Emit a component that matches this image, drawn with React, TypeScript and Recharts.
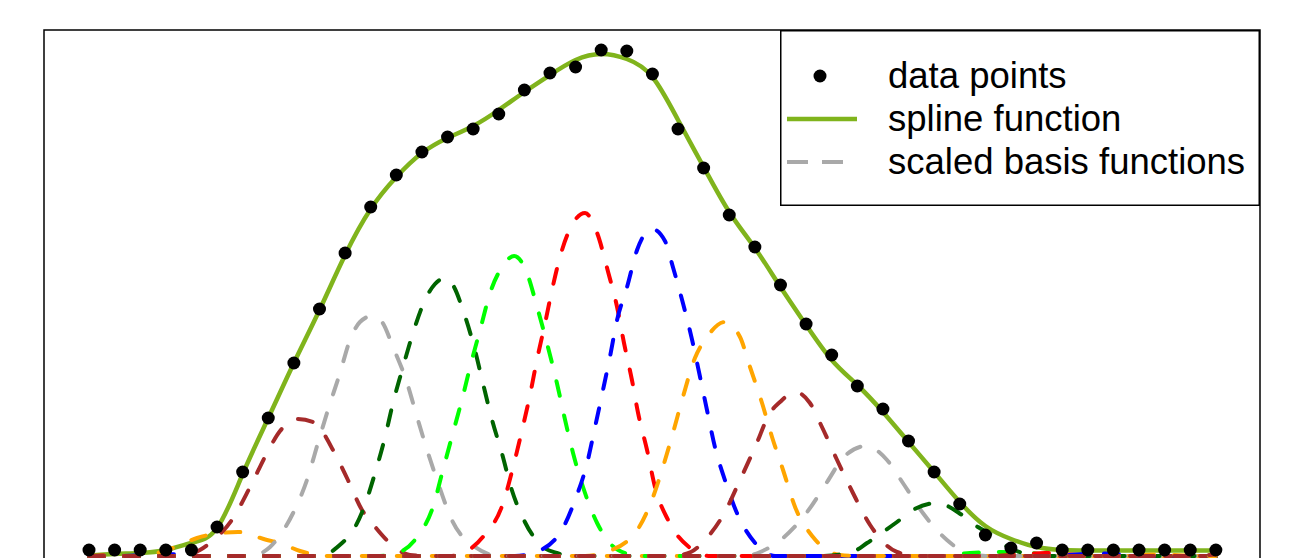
import { ComposedChart, Line, XAxis, YAxis, ReferenceArea, Legend } from "recharts";

// ── Data ──────────────────────────────────────────────────────────────────────

type Pt = [number, number];

const SAMPLE_X = [
  0, 1, 2, 3, 4, 5, 6, 7, 8, 9, 10, 11, 12, 13, 14, 15, 16, 17, 18, 19, 20, 21,
  22, 23, 24, 25, 26, 27, 28, 29, 30, 31, 32, 33, 34, 35, 36, 37, 38, 39, 40, 41,
  42, 43, 44,
];

const POINT_Y = [
  0.012, 0.012, 0.012, 0.012, 0.012, 0.058, 0.168, 0.276, 0.386, 0.494, 0.606,
  0.698, 0.762, 0.808, 0.838, 0.854, 0.884, 0.932, 0.966, 0.978, 1.012, 1.01,
  0.964, 0.854, 0.776, 0.682, 0.618, 0.542, 0.464, 0.402, 0.34, 0.294, 0.23,
  0.168, 0.104, 0.042, 0.016, 0.026, 0.012, 0.012, 0.012, 0.012, 0.012, 0.012,
  0.012,
];

const SPLINE_Y = [
  0.001, 0.004, 0.006, 0.012, 0.026, 0.056, 0.164, 0.276, 0.386, 0.492, 0.602,
  0.694, 0.758, 0.806, 0.836, 0.86, 0.892, 0.928, 0.962, 0.992, 1.004, 0.994,
  0.958, 0.872, 0.778, 0.688, 0.616, 0.538, 0.462, 0.392, 0.342, 0.288, 0.228,
  0.168, 0.108, 0.06, 0.034, 0.018, 0.012, 0.011, 0.011, 0.011, 0.011, 0.011, 0.011,
];

// scaled basis functions, left to right
const BASIS_RED_0: Pt[] = [[0.5, 0.001], [1.2, 0]];
const BASIS_BLUE_0: Pt[] = [[1.21, 0], [2.97, 0.004], [4.33, 0]];
const BASIS_ORANGE_0: Pt[] = [
  [1.99, 0], [3.16, 0.014], [4.22, 0.036], [5.12, 0.046], [5.82, 0.048],
  [6.95, 0.032], [7.46, 0.026], [8.24, 0.01], [9.41, 0],
];
const BASIS_BROWN_1: Pt[] = [
  [3.75, 0], [4.33, 0.012], [4.72, 0.026], [5.58, 0.072], [6.29, 0.138],
  [6.95, 0.206], [7.46, 0.25], [8.12, 0.274], [8.75, 0.268], [9.61, 0.204],
  [10.11, 0.152], [10.66, 0.092], [11.05, 0.066], [11.75, 0.026], [12.53, 0.002],
  [13.3, 0],
];
const BASIS_GRAY_1: Pt[] = [
  [6.29, 0], [7.07, 0.018], [7.38, 0.036], [7.97, 0.086], [8.51, 0.152],
  [8.94, 0.226], [9.33, 0.292], [9.8, 0.366], [10.19, 0.432], [10.58, 0.468],
  [11.05, 0.48], [11.44, 0.468], [11.87, 0.418], [12.42, 0.346], [12.81, 0.278],
  [13.2, 0.212], [13.63, 0.146], [14.17, 0.072], [15.07, 0.018], [16.05, 0],
];
const BASIS_DKGREEN_1: Pt[] = [
  [9.02, 0], [9.88, 0.026], [10.19, 0.042], [10.7, 0.092], [11.17, 0.166],
  [11.56, 0.238], [11.87, 0.306], [12.26, 0.378], [12.65, 0.446], [13.12, 0.512],
  [13.51, 0.544], [13.9, 0.556], [14.21, 0.542], [14.64, 0.486], [15.07, 0.412],
  [15.38, 0.346], [15.74, 0.272], [16.12, 0.206], [16.51, 0.132], [17.02, 0.068],
  [17.73, 0.018], [18.27, 0.006], [18.9, 0],
];
const BASIS_LIME_1: Pt[] = [
  [11.36, 0], [12.14, 0.008], [12.81, 0.038], [13.43, 0.098], [13.82, 0.172],
  [14.21, 0.246], [14.56, 0.312], [14.95, 0.392], [15.27, 0.452], [15.66, 0.526],
  [16.13, 0.578], [16.6, 0.6], [17.02, 0.576], [17.53, 0.492], [17.92, 0.418],
  [18.27, 0.346], [18.59, 0.272], [18.9, 0.206], [19.29, 0.138], [19.84, 0.066],
  [20.66, 0.012], [21.51, 0],
];
const BASIS_RED_1: Pt[] = [
  [14.1, 0], [14.49, 0.004], [15.38, 0.038], [16.17, 0.106], [16.56, 0.178],
  [16.91, 0.252], [17.22, 0.322], [17.49, 0.392], [17.81, 0.466], [18.08, 0.532],
  [18.39, 0.598], [18.86, 0.662], [19.37, 0.686], [19.84, 0.646], [20.27, 0.568],
  [20.62, 0.498], [20.89, 0.426], [21.2, 0.352], [21.44, 0.286], [21.79, 0.212],
  [22.1, 0.138], [22.61, 0.072], [23.47, 0.016], [24.25, 0],
];
const BASIS_BLUE_1: Pt[] = [
  [16.63, 0], [17.34, 0.006], [18.39, 0.046], [18.98, 0.112], [19.45, 0.186],
  [19.76, 0.258], [20.07, 0.332], [20.34, 0.398], [20.62, 0.472], [21.01, 0.538],
  [21.4, 0.612], [21.98, 0.654], [22.49, 0.63], [22.8, 0.578], [23.19, 0.506],
  [23.55, 0.432], [23.86, 0.358], [24.13, 0.292], [24.44, 0.218], [24.83, 0.152],
  [25.3, 0.086], [26.01, 0.026], [26.79, 0],
];
const BASIS_ORANGE_1: Pt[] = [
  [19.37, 0], [20.07, 0.006], [21.32, 0.046], [21.98, 0.112], [22.41, 0.178],
  [22.8, 0.246], [23.19, 0.318], [23.66, 0.396], [24.13, 0.438], [24.83, 0.468],
  [25.42, 0.438], [25.81, 0.378], [26.28, 0.306], [26.67, 0.238], [27.1, 0.172],
  [27.57, 0.098], [28.27, 0.038], [29.32, 0.002], [30.11, 0],
];
const BASIS_BROWN_2: Pt[] = [
  [22.8, 0], [23.5, 0.008], [23.98, 0.028], [24.83, 0.088], [25.42, 0.152],
  [26.01, 0.218], [26.59, 0.286], [26.98, 0.308], [27.57, 0.328], [28.15, 0.306],
  [28.62, 0.258], [29.21, 0.192], [29.83, 0.126], [30.5, 0.062], [31.55, 0.008],
  [32.4, 0],
];
const BASIS_GRAY_2: Pt[] = [
  [25.62, 0], [26.21, 0.008], [27.1, 0.036], [28.04, 0.088], [28.82, 0.148],
  [29.44, 0.196], [30.34, 0.22], [31.16, 0.192], [31.78, 0.146], [32.56, 0.086],
  [33.5, 0.032], [34.52, 0.002], [35.18, 0],
];
const BASIS_DKGREEN_2: Pt[] = [
  [28.54, 0], [29.8, 0.008], [30.38, 0.026], [31.0, 0.048], [31.55, 0.068],
  [32.17, 0.092], [33.11, 0.106], [34.09, 0.082], [34.71, 0.058], [35.26, 0.042],
  [35.88, 0.018], [36.47, 0.006], [37.33, 0],
];
const BASIS_LIME_2: Pt[] = [[33.23, 0], [34.4, 0.006], [35.57, 0.008], [36.74, 0.006], [37.91, 0]];
const BASIS_RED_2: Pt[] = [[35.18, 0], [36.35, 0.003], [37.33, 0.006], [38.31, 0.003], [39.48, 0]];
const BASIS_BLUE_2: Pt[] = [[37.33, 0], [39.48, 0.005], [41.43, 0]];
const BASIS_ORANGE_2: Pt[] = [[40.0, 0], [41.8, 0.003], [43.3, 0]];
const BASIS_BROWN_3: Pt[] = [[42.5, 0], [44, 0.003]];

const BASIS_CURVES: Pt[][] = [
  BASIS_RED_0, BASIS_BLUE_0, BASIS_ORANGE_0, BASIS_BROWN_1, BASIS_GRAY_1,
  BASIS_DKGREEN_1, BASIS_LIME_1, BASIS_RED_1, BASIS_BLUE_1, BASIS_ORANGE_1,
  BASIS_BROWN_2, BASIS_GRAY_2, BASIS_DKGREEN_2, BASIS_LIME_2, BASIS_RED_2,
  BASIS_BLUE_2, BASIS_ORANGE_2, BASIS_BROWN_3,
];

// colour cycle used for the basis functions
const BASIS_COLORS = ["#ff0000", "#0000ff", "#ffa500", "#a52a2a", "#a9a9a9", "#006400", "#00ff00"];

const LEGEND_LABELS = ["data points", "spline function", "scaled basis functions"];

// ── Layout / style ───────────────────────────────────────────────────────────

const X_DOMAIN: [number, number] = [-1.757, 45.724];
const Y_DOMAIN: [number, number] = [-0.05, 1.052];
const SPLINE_COLOR = "#80b41c";
const FONT = "'Liberation Sans', Arial, sans-serif";

const pointRows = SAMPLE_X.map((x, i) => ({ x, y: POINT_Y[i] }));
const splineRows = SAMPLE_X.map((x, i) => ({ x, y: SPLINE_Y[i] }));

function basisRows(pts: Pt[]) {
  const first = SAMPLE_X[0];
  const last = SAMPLE_X[SAMPLE_X.length - 1];
  const rows = pts.map(([x, y]) => ({ x, y }));
  if (rows[0].x > first) rows.unshift({ x: first, y: 0 });
  if (rows[rows.length - 1].x < last) rows.push({ x: last, y: 0 });
  return rows;
}

function LegendBox() {
  const textStyle = { fontFamily: FONT, fontSize: 36.5, fill: "#000" };
  return (
    <svg width={480} height={176} style={{ display: "block" }}>
      <rect x={0.75} y={0.75} width={478.5} height={174.5} fill="#fff" stroke="#000" strokeWidth={1.5} />
      <circle cx={40} cy={46} r={6.5} fill="#000" />
      <line x1={7} y1={89} x2={77} y2={89} stroke={SPLINE_COLOR} strokeWidth={4.5} />
      <line x1={7} y1={132} x2={77} y2={132} stroke="#a9a9a9" strokeWidth={4} strokeDasharray="21 14" />
      <text x={108} y={58} style={textStyle}>{LEGEND_LABELS[0]}</text>
      <text x={108} y={101} style={textStyle}>{LEGEND_LABELS[1]}</text>
      <text x={108} y={144} style={textStyle}>{LEGEND_LABELS[2]}</text>
    </svg>
  );
}

export default function App() {
  return (
    <div style={{ position: "fixed", left: 0, top: 0, width: 1295, height: 558, overflow: "hidden", background: "#fff" }}>
      <ComposedChart width={1295} height={620} margin={{ top: 30, right: 35, bottom: 39, left: 44 }}>
        <XAxis type="number" dataKey="x" domain={X_DOMAIN} allowDataOverflow hide />
        <YAxis type="number" dataKey="y" domain={Y_DOMAIN} allowDataOverflow hide />
        <ReferenceArea
          x1={X_DOMAIN[0]} x2={X_DOMAIN[1]} y1={Y_DOMAIN[0]} y2={Y_DOMAIN[1]}
          fill="none" fillOpacity={0} stroke="#000" strokeWidth={1.5}
        />
        <Line
          data={pointRows} dataKey="y" stroke="none" legendType="none"
          dot={{ r: 6.5, fill: "#000", stroke: "none" }} activeDot={false}
          isAnimationActive={false}
        />
        <Line
          data={splineRows} dataKey="y" type="natural" stroke={SPLINE_COLOR}
          strokeWidth={4.5} dot={false} activeDot={false} legendType="none"
          isAnimationActive={false}
        />
        {BASIS_CURVES.map((pts, i) => (
          <Line
            key={i}
            data={basisRows(pts)}
            dataKey="y"
            type="monotoneX"
            stroke={BASIS_COLORS[i % BASIS_COLORS.length]}
            strokeWidth={4}
            strokeDasharray="15 20"
            strokeLinecap="round"
            dot={false}
            activeDot={false}
            legendType="none"
            isAnimationActive={false}
          />
        ))}
        <Legend
          layout="vertical" align="center" verticalAlign="middle"
          content={() => <LegendBox />}
          wrapperStyle={{ left: 780, top: 30, width: 480, height: 176 }}
        />
      </ComposedChart>
    </div>
  );
}
